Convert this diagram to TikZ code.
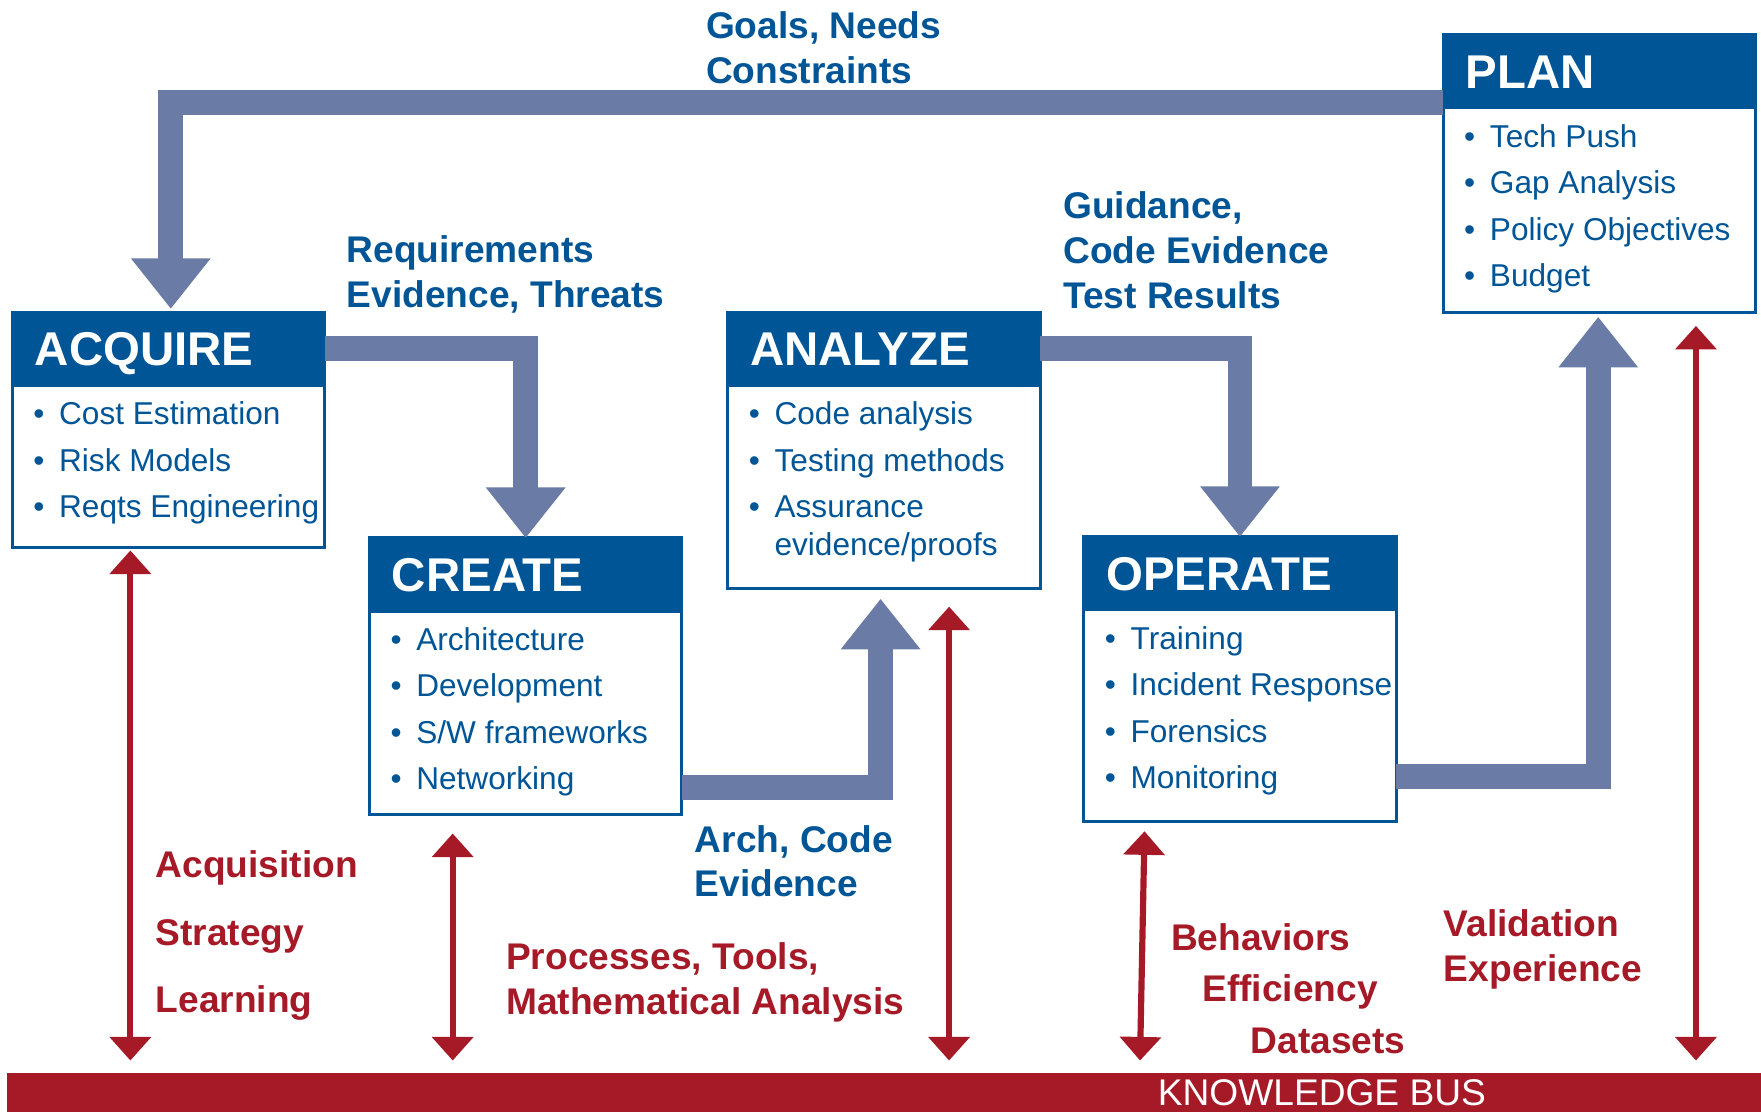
\documentclass[tikz,border=0pt]{standalone}
\usepackage{fontspec}
\setmainfont{Liberation Sans}
\usetikzlibrary{arrows.meta,positioning,calc}

\definecolor{hdblue}{RGB}{0,85,150}
\definecolor{flowgrey}{RGB}{106,124,166}
\definecolor{busred}{RGB}{166,25,38}

\newcommand{\bul}{\makebox[0.23cm][l]{\textbullet}}

\tikzset{
  head/.style={anchor=north west, fill=hdblue, draw=hdblue, line width=0.8pt,
    text=white, minimum width=2.78cm, minimum height=0.65cm, text width=2.38cm,
    text height=0.3cm, text depth=0cm, outer sep=0pt,
    inner xsep=0.2cm, inner ysep=0pt, align=left,
    font=\fontsize{12}{14.4}\selectfont\bfseries},
  body/.style={anchor=north, draw=hdblue, line width=0.8pt, fill=white,
    minimum width=2.78cm, outer sep=0pt},
  items/.style={anchor=north west, inner sep=0pt, align=left, text=hdblue,
    font=\fontsize{8}{11.78}\selectfont},
  bluelbl/.style={anchor=north west, inner sep=0pt, align=left, text=hdblue,
    font=\fontsize{9.4}{11.38}\selectfont\bfseries},
  redlbl/.style={anchor=north west, inner sep=0pt, align=left, text=busred,
    font=\fontsize{9.4}{11.38}\selectfont\bfseries},
  flow/.style={draw=flowgrey, line width=0.22cm, line join=miter,
    -{Triangle[width=0.68cm,length=0.45cm]}},
  link/.style={draw=busred, line width=0.055cm,
    {Triangle[width=0.36cm,length=0.21cm]}-{Triangle[width=0.36cm,length=0.21cm]}},
  bus/.style={fill=busred, inner sep=0pt, minimum width=15.61cm, minimum height=0.35cm}
}

\begin{document}
\begin{tikzpicture}[x=0.01cm, y=-0.01cm]
  \useasboundingbox (0,0) rectangle (1568,990);

  % Acquire
  \node [head] (acqhead) at (11,278) {ACQUIRE};
  \node [body, minimum height=1.44cm] (acqbody) at (acqhead.south) {};
  \node [items] (acqitems) at ([shift={(18,14)}]acqhead.south west)
    {\bul Cost Estimation\\ \bul Risk Models\\ \bul Reqts Engineering};

  % Create
  \node [head] (createhead) at (329,479) {CREATE};
  \node [body, minimum height=1.81cm] (createbody) at (createhead.south) {};
  \node [items] (createitems) at ([shift={(18,14)}]createhead.south west)
    {\bul Architecture\\ \bul Development\\ \bul S/W frameworks\\ \bul Networking};

  % Analyze
  \node [head] (analyzehead) at (648,278) {ANALYZE};
  \node [body, minimum height=1.81cm] (analyzebody) at (analyzehead.south) {};
  \node [items] (analyzeitems) at ([shift={(18,14)}]analyzehead.south west)
    {\bul Code analysis\\ \bul Testing methods\\ \bul Assurance\\[-0.074cm]
     \hphantom{\bul}evidence/proofs};

  % Operate
  \node [head] (operatehead) at (965,478) {OPERATE};
  \node [body, minimum height=1.88cm] (operatebody) at (operatehead.south) {};
  \node [items] (operateitems) at ([shift={(18,14)}]operatehead.south west)
    {\bul Training\\ \bul Incident Response\\ \bul Forensics\\ \bul Monitoring};

  % Plan
  \node [head] (planhead) at (1285,31) {PLAN};
  \node [body, minimum height=1.82cm] (planbody) at (planhead.south) {};
  \node [items] (planitems) at ([shift={(18,14)}]planhead.south west)
    {\bul Tech Push\\ \bul Gap Analysis\\ \bul Policy Objectives\\ \bul Budget};

  % Knowledge bus
  \node [bus] (bus) at (787.5,972.5) {};
  \node [text=white, inner sep=0pt, font=\fontsize{9.4}{11.38}\selectfont]
    (bustext) at (1177,973) {KNOWLEDGE BUS};

  % Flow between phases
  \draw [flow] ([shift={(0,27.5)}]planhead.west) -| ([shift={(2,-3)}]acqhead.north);
  \draw [flow] (acqhead.east) -| (createhead.north);
  \draw [flow] ([shift={(0,-24)}]createbody.south east) -| ([shift={(-3,9)}]analyzebody.south);
  \draw [flow] (analyzehead.east) -| (operatehead.north);
  \draw [flow] ([shift={(0,-40)}]operatebody.south east) -| ([shift={(-1,4)}]planbody.south);

  \node [bluelbl] (goals) at (628,10) {Goals, Needs\\Constraints};
  \node [bluelbl] (reqs) at (308,209) {Requirements\\Evidence, Threats};
  \node [bluelbl] (guide) at (946,170) {Guidance,\\Code Evidence\\Test Results};
  \node [bluelbl] (arch) at (618,734) {Arch, Code\\Evidence};

  % Links to the knowledge bus
  \draw [link] ([shift={(-34,3)}]acqbody.south) -- ([shift={(-34,-10)}]acqbody.south |- bus.north);
  \draw [link] ([shift={(-65,17)}]createbody.south) -- ([shift={(-65,-10)}]createbody.south |- bus.north);
  \draw [link] ([shift={(58,16)}]analyzebody.south) -- ([shift={(58,-10)}]analyzebody.south |- bus.north);
  \draw [link] ([shift={(-85,9)}]operatebody.south) -- ([shift={(-89,-10)}]operatebody.south |- bus.north);
  \draw [link] ([shift={(86,12)}]planbody.south) -- ([shift={(86,-10)}]planbody.south |- bus.north);

  \node [redlbl, font=\fontsize{9.4}{17.07}\selectfont\bfseries] (acqlbl) at (138,757)
    {Acquisition\\Strategy\\Learning};
  \node [redlbl] (proclbl) at (450,839) {Processes, Tools,\\Mathematical Analysis};
  \node [redlbl] (behavlbl) at (1042,822) {Behaviors};
  \node [redlbl] (efflbl) at (1070,867) {Efficiency};
  \node [redlbl] (datalbl) at (1113,915) {Datasets};
  \node [redlbl] (validlbl) at (1285,809) {Validation\\Experience};
\end{tikzpicture}
\end{document}
